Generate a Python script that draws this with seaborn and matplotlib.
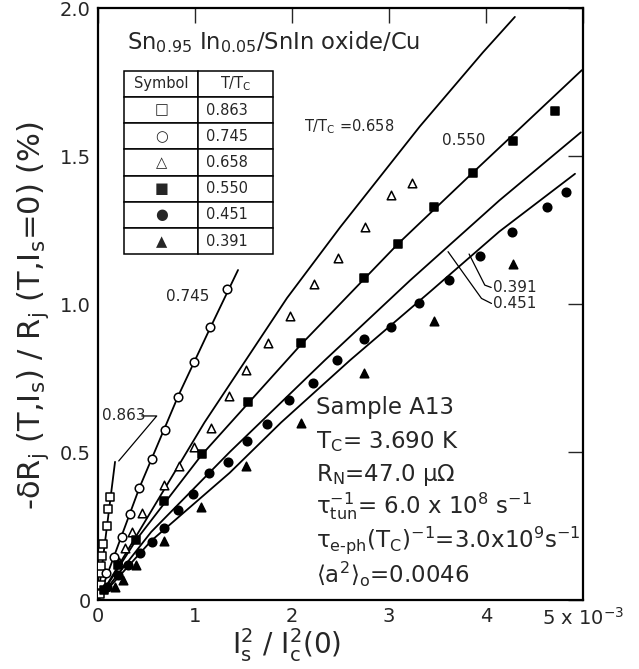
import numpy as np
import pandas as pd
import matplotlib
matplotlib.use("Agg")
import matplotlib.pyplot as plt
import seaborn as sns

# ---- data (x in units of 1e-3, y in %) ----
x_0863 = [0.02, 0.03, 0.03, 0.034, 0.04, 0.058, 0.093, 0.103, 0.127]
y_0863 = [0.02, 0.05, 0.09, 0.115, 0.149, 0.19, 0.25, 0.307, 0.347]

x_0745 = [0.090, 0.169, 0.254, 0.332, 0.428, 0.554, 0.691, 0.825, 0.990, 1.162, 1.337]
y_0745 = [0.091, 0.147, 0.213, 0.292, 0.379, 0.476, 0.574, 0.685, 0.805, 0.921, 1.050]

x_0658 = [0.220, 0.281, 0.351, 0.454, 0.680, 0.835, 0.990, 1.165, 1.356, 1.531, 1.758,
          1.979, 2.232, 2.477, 2.753, 3.028, 3.244]
y_0658 = [0.129, 0.175, 0.231, 0.293, 0.389, 0.453, 0.518, 0.582, 0.689, 0.777, 0.868,
          0.960, 1.068, 1.154, 1.260, 1.368, 1.408]

x_0550 = [0.06, 0.206, 0.399, 0.686, 1.072, 1.550, 2.100, 2.742, 3.096, 3.467, 3.866, 4.282, 4.711]
y_0550 = [0.034, 0.118, 0.203, 0.334, 0.493, 0.670, 0.867, 1.089, 1.202, 1.328, 1.444, 1.552, 1.652]

x_0451 = [0.10, 0.206, 0.31, 0.433, 0.554, 0.678, 0.827, 0.981, 1.144, 1.340, 1.538, 1.747,
          1.972, 2.220, 2.467, 2.745, 3.026, 3.312, 3.622, 3.938, 4.275, 4.632, 4.822]
y_0451 = [0.044, 0.084, 0.118, 0.159, 0.197, 0.243, 0.304, 0.360, 0.428, 0.468, 0.537, 0.594,
          0.676, 0.734, 0.811, 0.881, 0.921, 1.002, 1.081, 1.162, 1.242, 1.329, 1.379]

x_0391 = [0.175, 0.261, 0.399, 0.682, 1.069, 1.524, 2.091, 2.745, 3.467, 4.281]
y_0391 = [0.044, 0.068, 0.118, 0.198, 0.314, 0.454, 0.598, 0.768, 0.944, 1.137]

# fitted curves
fx_0863 = [0, 0.178]
fy_0863 = [0, 0.467]
fx_0745 = [0, 0.17, 0.43, 0.83, 1.16, 1.446]
fy_0745 = [0, 0.15, 0.38, 0.69, 0.92, 1.115]
fx_0658 = [0, 1.1, 1.95, 2.5, 3.32, 3.97, 4.3]
fy_0658 = [0, 0.6, 1.02, 1.26, 1.6, 1.85, 1.97]
fx_0550 = [0, 0.4, 1.07, 2.1, 3.1, 3.87, 4.99]
fy_0550 = [0, 0.205, 0.49, 0.865, 1.205, 1.445, 1.79]
fx_0451 = [0, 0.55, 1.36, 2.34, 3.22, 4.14, 4.98]
fy_0451 = [0, 0.23, 0.5, 0.81, 1.08, 1.35, 1.58]
fx_0391 = [0, 0.55, 1.36, 1.89, 2.6, 3.42, 4.14, 4.92]
fy_0391 = [0, 0.2, 0.43, 0.6, 0.81, 1.04, 1.245, 1.44]

labels_T = ["0.863", "0.745", "0.658", "0.550", "0.451", "0.391"]
table_symbols = ["□", "○", "△", "■", "●", "▲"]
x_ticks = [0, 1, 2, 3, 4, 5]
x_ticklabels = ["0", "1", "2", "3", "4", "5 x 10$^{-3}$"]
y_ticks = [0, 0.5, 1.0, 1.5, 2.0]
y_ticklabels = ["0", "0.5", "1.0", "1.5", "2.0"]

sns.set_style("white")
plt.rcParams["font.family"] = ["DejaVu Sans"]
plt.rcParams["mathtext.default"] = "regular"

fig = plt.figure(figsize=(6.39, 6.69), dpi=100)
ax = fig.add_axes([0.153, 0.103, 0.759, 0.885])

points = [
    (x_0863, y_0863, "s", "white"),
    (x_0745, y_0745, "o", "white"),
    (x_0658, y_0658, "^", "white"),
    (x_0550, y_0550, "s", "black"),
    (x_0451, y_0451, "o", "black"),
    (x_0391, y_0391, "^", "black"),
]
curves = [(fx_0863, fy_0863), (fx_0745, fy_0745), (fx_0658, fy_0658),
          (fx_0550, fy_0550), (fx_0451, fy_0451), (fx_0391, fy_0391)]

for fx, fy in curves:
    df = pd.DataFrame({"x": fx, "y": fy})
    sns.lineplot(data=df, x="x", y="y", ax=ax, color="black", lw=1.3,
                 sort=False, estimator=None)

for xs, ys, mk, fc in points:
    df = pd.DataFrame({"x": xs, "y": ys})
    sns.scatterplot(data=df, x="x", y="y", ax=ax, marker=mk, s=38,
                    facecolor=fc, edgecolor="black", linewidth=1.1, zorder=3)

ax.set_xlim(0, 5)
ax.set_ylim(0, 2.0)
ax.set_xticks(x_ticks)
ax.set_xticklabels(x_ticklabels)
ax.set_yticks(y_ticks)
ax.set_yticklabels(y_ticklabels)
ax.tick_params(direction="in", length=11, width=1, top=True, right=True,
               labelsize=14, pad=5)
for sp in ax.spines.values():
    sp.set_linewidth(1.6)
    sp.set_color("black")

ax.set_xlabel("I$_s^2$ / I$_c^2$(0)", fontsize=20)
ax.set_ylabel("-δR$_j$ (T,I$_s$) / R$_j$ (T,I$_s$=0) (%)", fontsize=22)
ax.xaxis.label.set_va("center")
ax.xaxis.set_label_coords(0.39, -0.076)
ax.yaxis.set_label_coords(-0.097, 0.48)

# title
ax.text(0.06, 0.943, "Sn$_{0.95}$ In$_{0.05}$/SnIn oxide/Cu", transform=ax.transAxes,
        fontsize=16.3, va="center", ha="left")

# table
cell_text = [[s, t] for s, t in zip(table_symbols, labels_T)]
tbl = ax.table(cellText=cell_text, colLabels=["Symbol", "T/T$_C$"],
               bbox=[0.054, 0.584, 0.307, 0.31], cellLoc="center")
tbl.auto_set_font_size(False)
for (r, c), cell in tbl.get_celld().items():
    cell.set_linewidth(1.1)
    cell.get_text().set_fontsize(10.5)
    if c == 1 and r > 0:
        cell.get_text().set_ha("left")
        cell._loc = "left"
        cell.PAD = 0.1

# curve labels
ax.text(0.93, 1.024, "0.745", fontsize=11, ha="center", va="center")
ax.text(2.13, 1.598, "T/T$_C$ =0.658", fontsize=10.5, ha="left", va="center")
ax.text(3.55, 1.554, "0.550", fontsize=11, ha="left", va="center")
ax.text(0.04, 0.622, "0.863", fontsize=11, ha="left", va="center")
ax.plot([0.454, 0.608, 0.216], [0.622, 0.622, 0.47], color="black", lw=0.9)
ax.text(4.07, 1.057, "0.391", fontsize=11, ha="left", va="center")
ax.plot([4.056, 3.99, 3.828], [1.056, 1.064, 1.169], color="black", lw=0.9)
ax.text(4.07, 1.002, "0.451", fontsize=11, ha="left", va="center")
ax.plot([4.059, 3.956, 3.611], [1.002, 1.019, 1.177], color="black", lw=0.9)

# sample info
info = ["Sample A13",
        "T$_C$= 3.690 K",
        "R$_N$=47.0 μΩ",
        "τ$_{tun}^{-1}$= 6.0 x 10$^8$ s$^{-1}$",
        "τ$_{e‐ph}$(T$_C$)$^{-1}$=3.0x10$^9$s$^{-1}$",
        r"$\langle a^2\rangle_o$=0.0046"]
info_y = [0.649, 0.537, 0.422, 0.318, 0.203, 0.091]
for s, yy in zip(info, info_y):
    ax.text(2.247, yy, s, fontsize=16.5, ha="left", va="center")

fig.savefig("out.png", dpi=100)
